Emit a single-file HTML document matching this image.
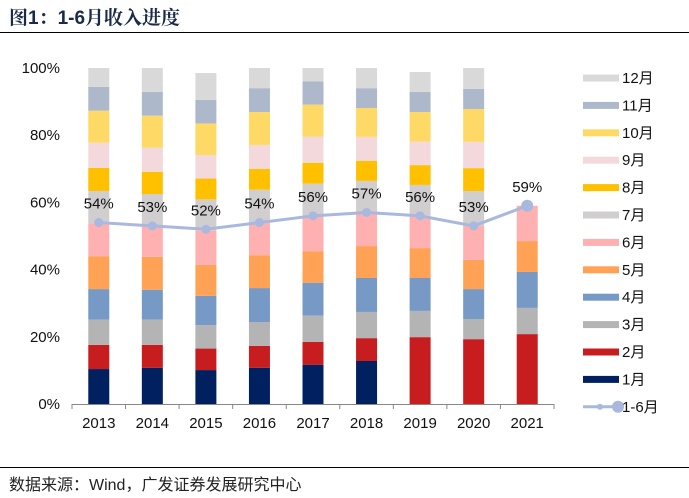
<!DOCTYPE html>
<html><head><meta charset="utf-8">
<style>
body{margin:0;background:#fff;}
#wrap{position:relative;width:689px;height:498px;overflow:hidden;font-family:"Liberation Sans","Noto Sans CJK SC",sans-serif;}
#title{position:absolute;left:9px;top:3px;font-size:19px;font-weight:bold;color:#1a2a48;font-family:"Liberation Sans","Noto Serif CJK SC",serif;}
#footer{position:absolute;left:9px;top:471px;font-size:16px;color:#222;}
</style></head>
<body>
<div id="wrap">
<div id="title">图1：1-6月收入进度</div>
<svg id="chart" width="689" height="498" style="position:absolute;left:0;top:0">
<line x1="0" y1="32.5" x2="689" y2="32.5" stroke="#000" stroke-width="1"/>
<line x1="0" y1="467.5" x2="689" y2="467.5" stroke="#000" stroke-width="1"/>
</svg>
<div id="footer">数据来源：Wind，广发证券发展研究中心</div>
</div>
<script>
const years=["2013","2014","2015","2016","2017","2018","2019","2020","2021"];
const months=["1月","2月","3月","4月","5月","6月","7月","8月","9月","10月","11月","12月"];
const colors=["#002060","#C81D1F","#B4B4B4","#7799C6","#FFA255","#FFB1B1","#D0CECE","#FFC000","#F3D8DC","#FFD966","#ADB9CA","#D9D9D9"];
const m2013=[10.4,7.2,7.5,9.1,9.8,9.8,9.6,6.9,7.5,9.5,7.1,5.6];
const m2014=[10.8,6.8,7.5,8.9,9.8,9.0,9.7,6.6,7.2,9.5,7.1,7.1];
const m2015=[10.1,6.4,7.0,8.7,9.2,10.2,9.3,6.2,7.0,9.4,7.0,8.0];
const m2016=[10.8,6.5,7.1,10.1,9.8,9.7,9.8,6.2,7.1,9.8,7.1,6.0];
const m2017=[11.7,6.8,7.8,9.8,9.4,10.5,9.6,6.2,7.8,9.5,6.9,4.0];
const m2018=[12.8,6.8,7.8,10.1,9.5,10.0,9.4,6.0,7.1,8.6,5.9,6.0];
const m2019=[0,19.9,7.8,9.8,8.9,9.6,9.2,5.9,7.0,8.8,6.0,5.9];
const m2020=[0,19.3,6.0,8.9,8.7,10.1,10.4,6.8,7.8,9.8,6.0,6.2];
const m2021=[0,20.8,7.8,10.7,9.2,10.5,0,0,0,0,0,0];
const h1=[54,53,52,54,56,57,56,53,59];
const yTicks=["0%","20%","40%","60%","80%","100%"];
const yTickVals=[0,20,40,60,80,100];

const seriesByYear=[m2013,m2014,m2015,m2016,m2017,m2018,m2019,m2020,m2021];
const NS="http://www.w3.org/2000/svg";
const svg=document.getElementById('chart');
const X0=72,X1=554,Y0=404,Y100=68;
const band=(X1-X0)/years.length;
function xc(i){return X0+band*(i+0.5);}
function y(v){return Y0-(Y0-Y100)*v/100;}
function mk(t,a){const e=document.createElementNS(NS,t);for(const k in a)e.setAttribute(k,a[k]);svg.appendChild(e);return e;}
const bw=21;
seriesByYear.forEach((vals,i)=>{
  let cum=0;
  vals.forEach((v,m)=>{
    if(v<=0)return;
    const r=mk('rect',{x:xc(i)-bw/2,y:y(cum+v),width:bw,height:y(cum)-y(cum+v),fill:colors[m]});
    
    
    cum+=v;
  });
});
let ax=mk('line',{x1:X0,y1:Y0+0.5,x2:X1,y2:Y0+0.5,stroke:'#888','stroke-width':1});


for(let i=0;i<=years.length;i++){
  const t=mk('line',{x1:X0+band*i,y1:Y0,x2:X0+band*i,y2:Y0+5,stroke:'#888','stroke-width':1});
  
  
}
years.forEach((yr,i)=>{
  const t=mk('text',{x:xc(i),y:428,'text-anchor':'middle','font-size':15,fill:'#111'});
  t.textContent=yr;
  
  
});
yTickVals.forEach((v,i)=>{
  const t=mk('text',{x:60,y:y(v)+5,'text-anchor':'end','font-size':15,fill:'#111'});
  t.textContent=yTicks[i];
  
  
});
const pts=h1.map((v,i)=>xc(i)+','+y(v)).join(' ');
const pl=mk('polyline',{points:pts,fill:'none',stroke:'#A9B8DF','stroke-width':3});


h1.forEach((v,i)=>{
  const last=i===h1.length-1;
  const c=mk('circle',{cx:xc(i),cy:y(v),r:last?6:4.5,fill:'#A9B8DF'});
  
  
  const t=mk('text',{x:xc(i),y:y(v)-14,'text-anchor':'middle','font-size':15,fill:'#111'});
  t.textContent=v+'%';
  
  
});
for(let k=0;k<12;k++){
  const m=11-k;const ly=78+k*27.4;
  const r=mk('rect',{x:583,y:ly-3.5,width:36,height:7,fill:colors[m]});
  
  
  const t=mk('text',{x:622,y:ly+5,'font-size':15,fill:'#111'});
  t.textContent=months[m];
  
  
}
const ly=78+12*27.4;
const ll=mk('line',{x1:583,y1:ly,x2:619,y2:ly,stroke:'#A9B8DF','stroke-width':3});


const lc1=mk('circle',{cx:600,cy:ly,r:3,fill:'#A9B8DF'});


const lc2=mk('circle',{cx:618,cy:ly,r:6,fill:'#A9B8DF'});


const lt=mk('text',{x:622,y:ly+5,'font-size':15,fill:'#111'});
lt.textContent='1-6月';


</script>
</body></html>
